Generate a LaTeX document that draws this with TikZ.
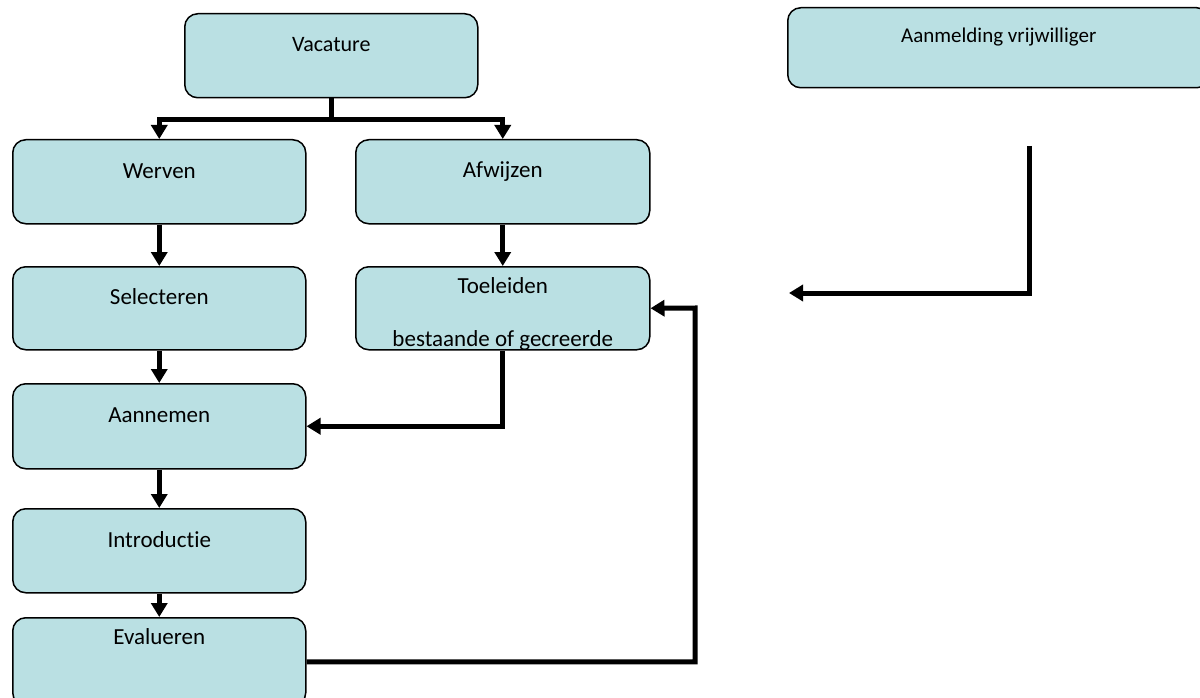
\documentclass[tikz,border=0pt]{standalone}
\usepackage{fontspec}
\setmainfont{Carlito}[Ligatures=NoCommon]
\usetikzlibrary{arrows.meta,calc}
\definecolor{boxfill}{HTML}{BAE0E3}
\begin{document}
\begin{tikzpicture}[x=1pt,y=-1pt,
  box/.style={draw=black, line width=1.5pt, fill=boxfill, rounded corners=13pt, anchor=north west, inner sep=0pt},
  lbl/.style={font=\fontsize{23}{27}\selectfont, inner sep=0pt},
  conn/.style={line width=5pt, -{Triangle[width=16pt,length=14pt]}}]
\useasboundingbox (0,0) rectangle (1200,698);
% boxes
\node[box, minimum width=293pt, minimum height=84pt] (vac) at (184,13) {};
\node[box, minimum width=293pt, minimum height=84pt] (wer) at (12,139) {};
\node[box, minimum width=294pt, minimum height=84pt] (afw) at (355,139) {};
\node[box, minimum width=293pt, minimum height=83pt] (sel) at (12,266) {};
\node[box, minimum width=294pt, minimum height=83pt] (toe) at (355,266) {};
\node[box, minimum width=293pt, minimum height=85pt] (aan) at (12,383) {};
\node[box, minimum width=293pt, minimum height=84pt] (intr) at (12,508) {};
\node[box, minimum width=293pt, minimum height=88pt] (eva) at (12,617) {};
\node[box, minimum width=422pt, minimum height=80pt] (aanm) at (787,7) {};
% labels
\node[lbl, font=\fontsize{22}{26}\selectfont] (vact) at ($(vac.north)+(0,32)$) {Vacature};
\node[lbl] (wert) at ($(wer.north)+(0,32)$) {Werven};
\node[lbl] (afwt) at ($(afw.north)+(0,33)$) {Afwijzen};
\node[lbl] (selt) at ($(sel.north)+(0,31)$) {Selecteren};
\node[lbl] (toet) at ($(toe.north)+(0,20)$) {Toeleiden};
\begin{scope}
\clip ($(toe.south west)+(0,-2)$) rectangle (toe.north east);
\node[lbl] (toet2) at ($(toe.north)+(0,74)$) {bestaande of gecreerde};
\end{scope}
\node[lbl] (aant) at ($(aan.north)+(0,32)$) {Aannemen};
\node[lbl] (intrt) at ($(intr.north)+(0,32)$) {Introductie};
\node[lbl] (evat) at ($(eva.north)+(0,20)$) {Evalueren};
\node[lbl, font=\fontsize{21}{25}\selectfont] (aanmt) at ($(aanm.north)+(0,30)$) {Aanmelding vrijwilliger};
% connectors
\draw[conn] (vac.south) -- ++(0,21) -| (wer.north);
\draw[conn] (vac.south) -- ++(0,21) -| (afw.north);
\draw[conn] (wer) -- (sel);
\draw[conn] (afw) -- (toe);
\draw[conn] (sel) -- (aan);
\draw[conn] (toe.south) |- (aan.east);
\draw[conn] (aan) -- (intr);
\draw[conn] (intr) -- (eva);
\coordinate (loopc) at (695,308);
\draw[conn] (eva.east) -| (loopc) -- (toe.east);
\coordinate (fs) at (1029,146);
\coordinate (fe) at (789,293);
\draw[conn] (fs) |- (fe);
\end{tikzpicture}
\end{document}
